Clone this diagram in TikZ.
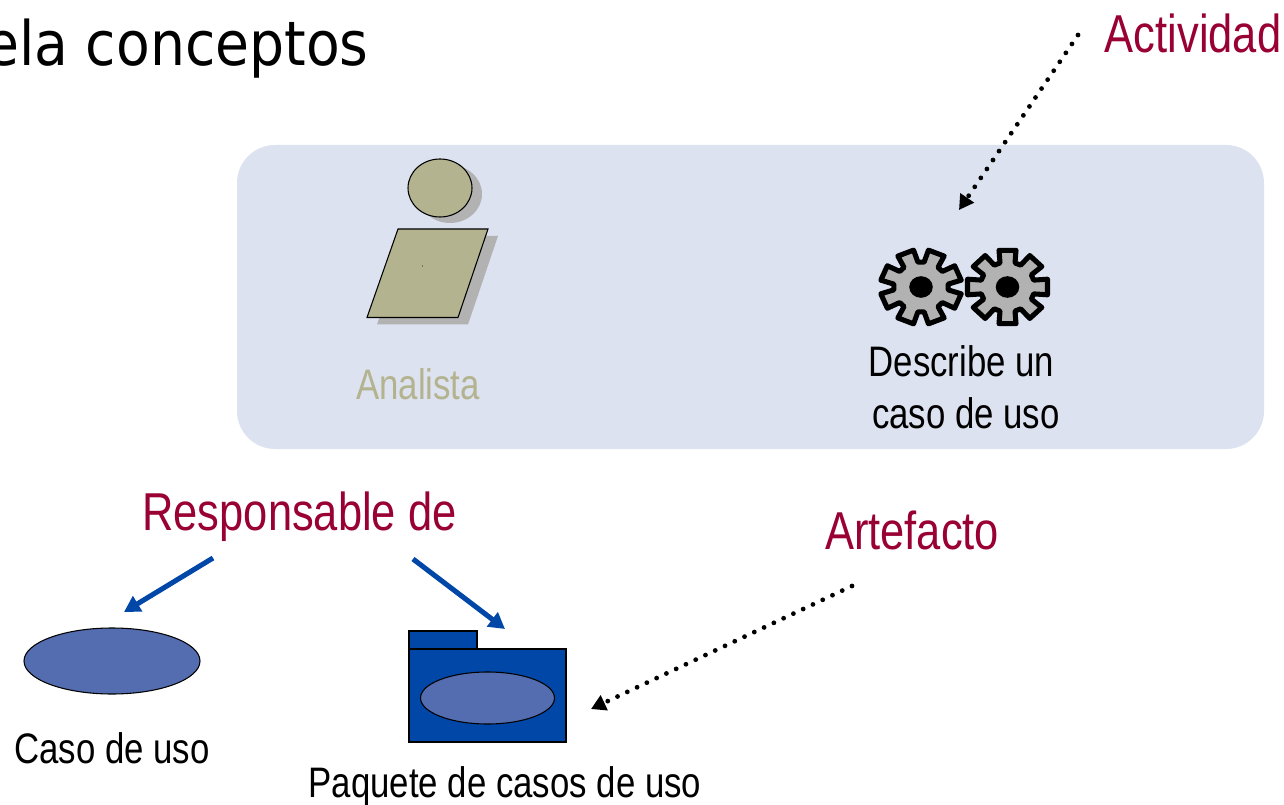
\documentclass[tikz,border=0pt]{standalone}
\usepackage{fontspec}
\setmainfont[FakeStretch=0.815]{Liberation Sans}
\newfontfamily\titlefont[FakeStretch=0.9]{DejaVu Sans}
\usetikzlibrary{arrows.meta}
\definecolor{panelc}{HTML}{DDE2F0}
\definecolor{tanc}{HTML}{B3B38F}
\definecolor{shadowc}{HTML}{B2B2B2}
\definecolor{crimsonc}{HTML}{990033}
\definecolor{blueb}{HTML}{0047A8}
\definecolor{bluee}{HTML}{536DB0}
\newcommand{\gearshape}[3]{%
  \begin{scope}[shift={(#1,#2)},xscale=1.09]
  \draw[fill=shadowc,draw=black,line width=3.8pt,line join=round]
  ({#3-16}:25)
  \foreach \i in {0,...,7}{
    -- ({#3+\i*45-16}:25)
    -- ({#3+\i*45-12}:37.5)
    -- ({#3+\i*45+12}:37.5)
    -- ({#3+\i*45+16}:25)
  } -- cycle;
  \fill[black] (0,0) ellipse [x radius=10.8,y radius=10.8];
  \end{scope}
}
\tikzset{
  x=0.75pt,y=-0.75pt,
  labelc/.style={text=crimsonc,font=\fontsize{40}{44}\selectfont,inner sep=0pt,anchor=base},
  blacktext/.style={text=black,font=\fontsize{32}{36}\selectfont,inner sep=0pt,anchor=base},
  dotarrow/.style={line width=3.6pt,line cap=round,dash pattern=on 0pt off 8.1pt,-{Triangle[length=11pt,width=12pt]}},
  bluearrow/.style={draw=blueb,line width=3.8pt,-{Triangle[length=12pt,width=13pt]}},
  figure/.style={draw=black,line width=0.8pt},
}
\begin{document}
\begin{tikzpicture}
\useasboundingbox (0,0) rectangle (1284,805);
\clip (0,0) rectangle (1284,805);
\node[inner sep=0pt,anchor=base west,font=\titlefont\fontsize{46}{50}\selectfont] (title) at (-15,65.5) {ela conceptos};
\node[labelc] (actividad) at (1193,52.5) {Actividad};
\fill[panelc,rounded corners=28.5pt] (237,145) rectangle (1264,449);
% actor
\fill[shadowc] (450,194) ellipse [x radius=32,y radius=29];
\fill[shadowc] (408,236) -- (498,236) -- (468,324.5) -- (377,324.5) -- cycle;
\draw[figure,fill=tanc] (440,188) ellipse [x radius=32,y radius=29];
\draw[figure,fill=tanc] (398,229) -- (488,229) -- (458,317.5) -- (367,317.5) -- cycle;
\fill[black] (422.5,266) circle [radius=0.5];
\node[inner sep=0pt,anchor=base,text=tanc,font=\fontsize{32}{36}\selectfont] (analista) at (418,399) {Analista};
% gears
\gearshape{921}{287}{22.5}
\gearshape{1007.5}{287}{0}
\node[blacktext] (desc1) at (961.5,376) {Describe un};
\node[blacktext] (desc2) at (966,428) {caso de uso};
% lower
\node[labelc] (resp) at (299.5,530) {Responsable de};
\node[labelc] (arte) at (912,549) {Artefacto};
\draw[figure,fill=bluee] (112,661) ellipse [x radius=88,y radius=33];
\node[blacktext] (caso) at (112,763) {Caso de uso};
\draw[figure,fill=blueb] (409,631) rectangle (477,649);
\draw[figure,fill=blueb] (409,649) rectangle (566,742);
\draw[figure,fill=bluee] (487.5,698) ellipse [x radius=67,y radius=26];
\node[blacktext] (paq) at (505,797) {Paquete de casos de uso};
\coordinate (a1) at (1078,35);
\coordinate (a2) at (959,210);
\coordinate (b1) at (852,586);
\coordinate (b2) at (591,709);
\coordinate (c1) at (213,558);
\coordinate (c2) at (124,612);
\coordinate (d1) at (413,559);
\coordinate (d2) at (505,629);
\draw[dotarrow] (a1) -- (a2);
\draw[dotarrow] (b1) -- (b2);
\draw[bluearrow] (c1) -- (c2);
\draw[bluearrow] (d1) -- (d2);
\end{tikzpicture}
\end{document}
